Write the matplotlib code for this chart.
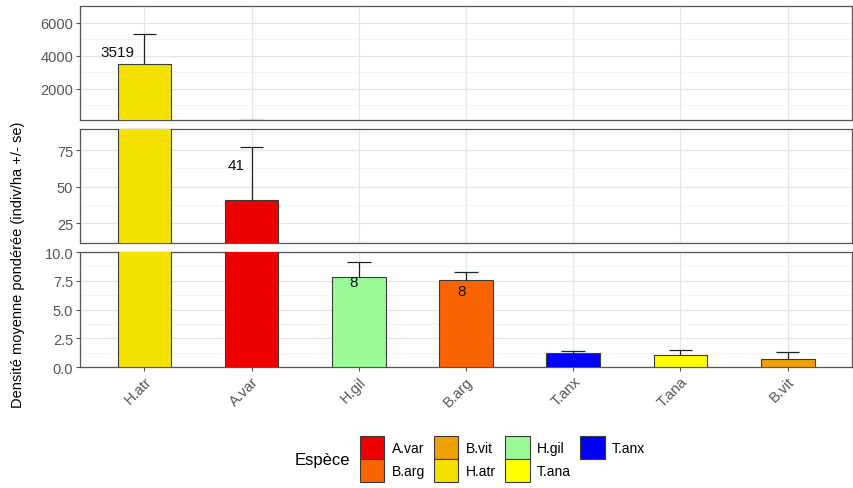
import matplotlib.pyplot as plt
import matplotlib.patches as mpatches
from matplotlib.ticker import MultipleLocator

plt.rcParams["font.family"] = ["Liberation Sans", "DejaVu Sans"]

species = ["H.atr", "A.var", "H.gil", "B.arg", "T.anx", "T.ana", "B.vit"]
density = [3519, 41, 7.8, 7.6, 1.25, 1.05, 0.7]
se = [1810, 36, 1.3, 0.7, 0.1, 0.45, 0.6]

COLORS = {
    "A.var": "#EE0000",
    "B.arg": "#F86400",
    "B.vit": "#F0A000",
    "H.atr": "#F5E100",
    "H.gil": "#98FB98",
    "T.ana": "#FFFF00",
    "T.anx": "#0000FF",
}

# text labels on bars (rounded values), placement
label_text = ["3519", "41", "8", "8"]
label_x = [-0.25, 0.855, 1.95, 2.96]
label_y = [4250, 64.5, 7.4, 6.6]
label_panel = [0, 1, 2, 2]

# three broken-axis panels: (ylim, major step, minor step, tick format)
PANELS = [
    ((100, 7030), 2000, 1000, "{:.0f}"),
    ((11.3, 89.4), 25, 12.5, "{:.0f}"),
    ((0, 10), 2.5, 1.25, "{:.1f}"),
]
PANEL_BOXES = [
    [0.0937, 0.7526, 0.904, 0.2331],
    [0.0937, 0.5010, 0.904, 0.2331],
    [0.0937, 0.2474, 0.904, 0.2352],
]

fig = plt.figure(figsize=(8.54, 4.89), dpi=100)
x = list(range(len(species)))

axes = []
for i, (box, (ylim, major, minor, fmt)) in enumerate(zip(PANEL_BOXES, PANELS)):
    ax = fig.add_axes(box)
    axes.append(ax)
    ax.bar(x, density, width=0.5, color=[COLORS[s] for s in species],
           edgecolor="#3a3a3a", linewidth=0.8, zorder=3)
    # upper error bars only
    tops = [d + e for d, e in zip(density, se)]
    ax.vlines(x, density, tops, color="#222222", linewidth=0.9, zorder=4)
    ax.hlines(tops, [xi - 0.11 for xi in x], [xi + 0.11 for xi in x],
              color="#222222", linewidth=0.9, zorder=4)
    ax.set_xlim(-0.6, len(species) - 0.4)
    ax.set_ylim(*ylim)
    ax.yaxis.set_major_locator(MultipleLocator(major))
    ax.yaxis.set_minor_locator(MultipleLocator(minor))
    ax.yaxis.set_major_formatter(plt.FuncFormatter(lambda v, _, f=fmt: f.format(v)))
    ax.grid(which="major", color="#E5E5E5", linewidth=0.9, zorder=0)
    ax.grid(which="minor", axis="y", color="#F0F0F0", linewidth=0.5, zorder=0)
    ax.set_axisbelow(True)
    ax.tick_params(axis="y", which="major", length=3, color="#555555",
                   labelsize=10.5, labelcolor="#555555", pad=2)
    ax.tick_params(axis="y", which="minor", length=0)
    ax.set_xticks(x)
    for sp in ax.spines.values():
        sp.set_color("#555555")
        sp.set_linewidth(0.9)
    if i < 2:
        ax.tick_params(axis="x", length=0, labelbottom=False)
    else:
        ax.tick_params(axis="x", length=3, color="#555555", labelsize=10.5,
                       labelcolor="#555555", pad=2)
        ax.set_xticklabels(species, rotation=45, ha="right",
                           rotation_mode="anchor")

for t, lx, ly, p in zip(label_text, label_x, label_y, label_panel):
    axes[p].text(lx, ly, t, ha="center", va="center", fontsize=11,
                 color="#111111", zorder=5)

fig.text(0.021, 0.458, "Densité moyenne pondérée (indiv/ha +/- se)",
         rotation=90, ha="center", va="center", fontsize=10.5)

handles = [mpatches.Patch(facecolor=COLORS[s], edgecolor="#3a3a3a",
                          linewidth=0.8, label=s) for s in sorted(COLORS)]
fig.legend(handles=handles, ncol=4, loc="center left",
           bbox_to_anchor=(0.4215, 0.059), frameon=False, fontsize=10,
           handlelength=1.75, handleheight=2.2, labelspacing=0.0,
           handletextpad=0.55, columnspacing=0.65, borderpad=0,
           borderaxespad=0)
fig.text(0.378, 0.059, "Espèce", ha="center", va="center", fontsize=12)

fig.savefig("out.png", dpi=100)
